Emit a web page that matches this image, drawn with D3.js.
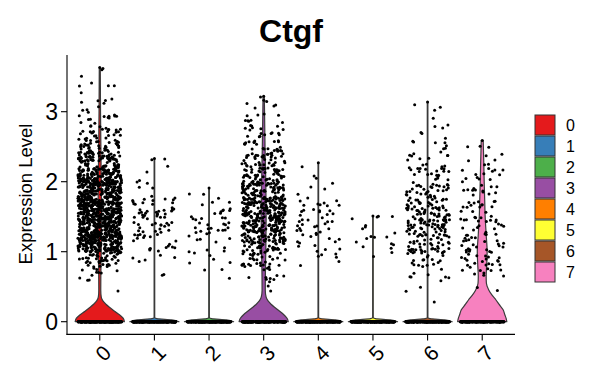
<!DOCTYPE html>
<html><head><meta charset="utf-8">
<script src="https://cdn.jsdelivr.net/npm/d3@7"></script>
<style>body{margin:0;background:#fff}svg{display:block}text{font-family:"Liberation Sans",Arial,sans-serif}</style>
</head><body>
<script>
const title = "Ctgf";
const yLabel = "Expression Level";
const clusters = ["0","1","2","3","4","5","6","7"];
const colors = ["#E41A1C","#377EB8","#4DAF4A","#984EA3","#FF7F00","#FFFF33","#A65628","#F781BF"];
const yTicks = [0,1,2,3];
const maxExpr = [3.63, 2.33, 1.91, 3.22, 2.27, 1.51, 3.14, 2.59];
const zeroCounts = [300, 300, 300, 300, 300, 300, 300, 220];
// histogram of non-zero cells: bins start at these values, width 0.2
const binStarts = [0.2,0.4,0.6,0.8,1.0,1.2,1.4,1.6,1.8,2.0,2.2,2.4,2.6,2.8,3.0,3.2,3.4,3.6];
const counts0 = [0,3,12,45,140,170,180,170,150,125,80,50,28,13,8,4,3,1];
const counts1 = [0,0,2,5,12,20,25,15,4,2,3,0,0,0,0,0,0,0];
const counts2 = [0,0,3,5,8,15,14,5,2,0,0,0,0,0,0,0,0,0];
const counts3 = [0,3,12,32,60,90,100,95,75,50,38,24,16,10,6,1,0,0];
const counts4 = [0,0,0,6,10,14,14,10,4,2,1,0,0,0,0,0,0,0];
const counts5 = [0,0,0,2,6,7,4,0,0,0,0,0,0,0,0,0,0,0];
const counts6 = [1,3,8,20,35,45,45,35,28,20,12,8,5,2,3,0,0,0];
const counts7 = [0,2,10,20,20,15,15,12,14,12,6,3,0,0,0,0,0,0];
const allCounts = [counts0,counts1,counts2,counts3,counts4,counts5,counts6,counts7];
// violin outlines: [expression value, relative half-width]
const violin0 = [[0,1],[0.05,0.95],[0.1,0.8],[0.15,0.6],[0.2,0.42],[0.25,0.25],[0.3,0.12],[0.35,0.06],[0.45,0.04],[0.7,0.045],[1.0,0.06],[1.5,0.07],[2.0,0.06],[2.5,0.045],[3.0,0.03],[3.63,0.02]];
const violin3 = [[0,1],[0.05,0.95],[0.1,0.82],[0.15,0.65],[0.2,0.47],[0.25,0.3],[0.3,0.17],[0.35,0.1],[0.45,0.065],[0.7,0.07],[1.0,0.085],[1.5,0.1],[2.0,0.085],[2.5,0.055],[3.0,0.035],[3.22,0.025]];
const violin7 = [[0,1],[0.05,0.97],[0.1,0.92],[0.17,0.85],[0.25,0.68],[0.31,0.56],[0.38,0.4],[0.45,0.27],[0.55,0.17],[0.65,0.16],[0.8,0.18],[1.0,0.2],[1.25,0.16],[1.5,0.12],[1.75,0.1],[2.0,0.08],[2.25,0.065],[2.45,0.05],[2.59,0.04]];
const spikeShape = [[0,1],[0.025,0.7],[0.045,0.1],[0.06,0.012]];
const violins = clusters.map((c,i)=> i===0?violin0 : i===3?violin3 : i===7?violin7 : spikeShape.concat([[maxExpr[i],0.012]]));

const W=592,H=367;
const svg=d3.select("body").append("svg").attr("width",W).attr("height",H);
const x=d3.scalePoint().domain(clusters).range([67,515]).padding(0.6);
const unit=x.step();
const y=d3.scaleLinear().domain([0,3.63]).range([321.7,67.6]);
const yTop=y(3.63+0.1815), yBot=y(-0.1815);

// violins
const halfMax=0.45*unit;
clusters.forEach((c,i)=>{
  const cx=x(c);
  const area=d3.area().curve(d3.curveMonotoneY)
    .y(d=>y(d[0])).x0(d=>cx-d[1]*halfMax).x1(d=>cx+d[1]*halfMax);
  svg.append("path").datum(violins[i]).attr("d",area)
    .attr("fill",colors[i]).attr("stroke","#3a3a3a").attr("stroke-width",1.2).attr("stroke-linejoin","round");
});

// points: deterministic hash jitter (position only)
function hash(k){let t=(k*2654435761+0x6D2B79F5)>>>0;t=Math.imul(t^(t>>>15),t|1);t^=t+Math.imul(t^(t>>>7),t|61);return((t^(t>>>14))>>>0)/4294967296;}
const g=svg.append("g");
let n=0;
clusters.forEach((c,i)=>{
  const cx=x(c);
  const pts=[];
  for(let k=0;k<zeroCounts[i];k++){n++;pts.push([cx+(hash(2*n)*2-1)*0.4*unit,0]);}
  allCounts[i].forEach((cnt,b)=>{
    const lo=binStarts[b], hi=Math.min(lo+0.2,maxExpr[i]);
    for(let k=0;k<cnt;k++){n++;pts.push([cx+(hash(2*n)*2-1)*0.4*unit, lo+(hi-lo)*hash(2*n+1)]);}
  });
  pts.push([cx,maxExpr[i]]);
  g.selectAll(null).data(pts).enter().append("circle")
    .attr("cx",d=>d[0]).attr("cy",d=>y(d[1])).attr("r",1.5).attr("fill","#000");
});

// axes
svg.append("line").attr("x1",67).attr("x2",67).attr("y1",yTop).attr("y2",yBot+0.5).attr("stroke","#000").attr("stroke-width",1.1);
svg.append("line").attr("x1",66.5).attr("x2",515).attr("y1",yBot).attr("y2",yBot).attr("stroke","#000").attr("stroke-width",1.1);
yTicks.forEach(t=>{
  svg.append("line").attr("x1",61).attr("x2",67).attr("y1",y(t)).attr("y2",y(t)).attr("stroke","#000").attr("stroke-width",1.1);
  svg.append("text").attr("x",58).attr("y",y(t)+8.5).attr("text-anchor","end").attr("font-size",23).attr("fill","#000").text(t);
});
clusters.forEach(c=>{
  const cx=x(c);
  svg.append("line").attr("x1",cx).attr("x2",cx).attr("y1",yBot).attr("y2",yBot+6).attr("stroke","#000").attr("stroke-width",1.1);
  svg.append("text").attr("transform",`translate(${cx+2},${yBot+9}) rotate(-45)`)
    .attr("text-anchor","end").attr("dominant-baseline","hanging").attr("font-size",21).attr("fill","#000").text(c);
});
svg.append("text").attr("transform",`translate(32,194) rotate(-90)`).attr("text-anchor","middle")
  .attr("font-size",18.5).attr("fill","#000").text(yLabel);
svg.append("text").attr("x",291).attr("y",42).attr("text-anchor","middle").attr("font-weight","bold")
  .attr("font-size",32).attr("fill","#000").text(title);

// legend
clusters.forEach((c,i)=>{
  const ky=115+i*21;
  svg.append("rect").attr("x",535).attr("y",ky).attr("width",20).attr("height",20)
    .attr("fill",colors[i]).attr("stroke","#333").attr("stroke-width",1);
  svg.append("text").attr("x",566).attr("y",ky+16).attr("font-size",16).attr("fill","#000").text(c);
});
</script>
</body></html>
